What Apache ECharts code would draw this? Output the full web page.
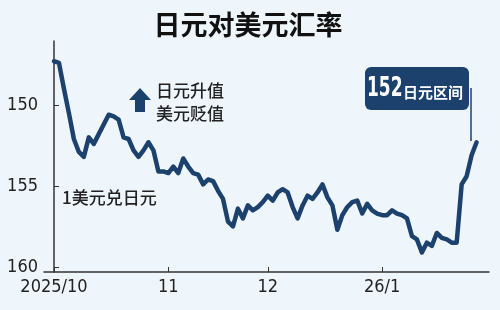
<!DOCTYPE html>
<html><head><meta charset="utf-8">
<script src="https://cdn.jsdelivr.net/npm/echarts@6/dist/echarts.min.js"></script>
<style>html,body{margin:0;padding:0;background:#eef5fb;}#c{width:500px;height:310px;}</style>
</head><body><div id="c"></div>
<script>
// trading-day index of each sample (0 = 2025/10/1), month-start tick positions and labels
const monthTickIdx = [0, 23, 43, 66];
const monthTickLabels = ['2025/10', '11', '12', '26/1'];
const yTicks = [150, 155, 160];
// 1 USD in JPY, one value per trading day (Oct 1 2025 .. late Jan 2026)
const usdJpy = [
  147.3,147.4,149.0,150.5,152.1,152.9,153.2,152.0,152.4,151.8,
  151.2,150.6,150.7,150.9,152.0,152.1,152.8,153.2,152.8,152.3,
  152.8,154.1,154.1,154.2,153.8,154.2,153.3,153.8,154.2,154.3,
  154.9,154.6,154.7,155.3,155.8,157.2,157.5,156.4,157.0,156.2,
  156.5,156.3,156.0,155.6,155.9,155.4,155.2,155.4,156.3,157.0,
  156.2,155.6,155.8,155.4,154.9,155.7,156.2,157.7,156.8,156.3,
  156.0,155.9,156.7,156.1,156.5,156.7,156.8,156.8,156.5,156.7,
  156.8,157.0,158.1,158.3,159.1,158.5,158.7,157.9,158.2,158.3,
  158.5,158.5,154.9,154.4,153.1,152.3
];
const seriesData = usdJpy.map((v, i) => [i, v]);
const navy = '#1b416c';
const txt = '#222';
const numFont = '"DejaVu Sans Condensed", "Liberation Sans", sans-serif';
const chart = echarts.init(document.getElementById('c'));
chart.setOption({
  backgroundColor: '#eef5fb',
  animation: false,
  title: {
    text: '日元对美元汇率', left: 243, top: 6, textAlign: 'center',
    textStyle: {fontFamily: 'Noto Sans CJK SC', fontWeight: 'bold', fontSize: 27, color: '#111'}
  },
  grid: {left: 44, right: 11, top: 41, bottom: 38},
  xAxis: {
    type: 'value', min: -2.01, max: 87.5,
    splitLine: {show: false},
    axisLine: {show: true, lineStyle: {color: '#333', width: 1.5}},
    axisTick: {show: true, inside: true, length: 5, customValues: monthTickIdx, lineStyle: {color: '#333'}},
    axisLabel: {
      customValues: monthTickIdx, margin: 6,
      formatter: v => monthTickLabels[monthTickIdx.indexOf(Math.round(v))] || '',
      fontFamily: numFont, fontSize: 18, color: txt
    }
  },
  yAxis: {
    type: 'value', inverse: true, min: 146.05, max: 160.31,
    splitLine: {show: false},
    axisLine: {show: true, lineStyle: {color: '#333', width: 1.5}},
    axisTick: {show: true, inside: true, length: 5, customValues: yTicks, lineStyle: {color: '#333'}},
    axisLabel: {customValues: yTicks, margin: 6, fontFamily: numFont, fontSize: 18, color: txt}
  },
  series: [{
    type: 'line', data: seriesData, showSymbol: false, symbol: 'none',
    lineStyle: {color: navy, width: 4.5, join: 'round', cap: 'round'}
  }],
  graphic: [
    {type: 'text', left: 62, top: 189, style: {text: '1美元兑日元', font: '500 17px "Noto Sans CJK SC"', fill: txt}},
    {type: 'text', left: 156, top: 79, style: {text: '日元升值\n美元贬值', font: '500 17px "Noto Sans CJK SC"', fill: txt, lineHeight: 23}},
    {type: 'polygon', shape: {points: [[140,88],[151,100],[145,100],[145,112],[135,112],[135,100],[129,100]]}, style: {fill: navy}},
    {type: 'line', shape: {x1: 471, y1: 88, x2: 471, y2: 141}, style: {stroke: navy, lineWidth: 1.5}},
    {type: 'rect', shape: {x: 365, y: 67, width: 104, height: 43, r: 6}, style: {fill: navy}},
    {type: 'text', x: 367, y: 89, scaleX: 0.7, style: {
      text: '152', font: 'bold 27px "DejaVu Sans Condensed", "Liberation Sans", sans-serif', fill: '#fff',
      verticalAlign: 'middle'
    }},
    {type: 'text', x: 403, y: 92, style: {
      text: '日元区间', font: 'bold 15px "Noto Sans CJK SC"', fill: '#fff',
      verticalAlign: 'middle'
    }}
  ]
});
</script></body></html>
